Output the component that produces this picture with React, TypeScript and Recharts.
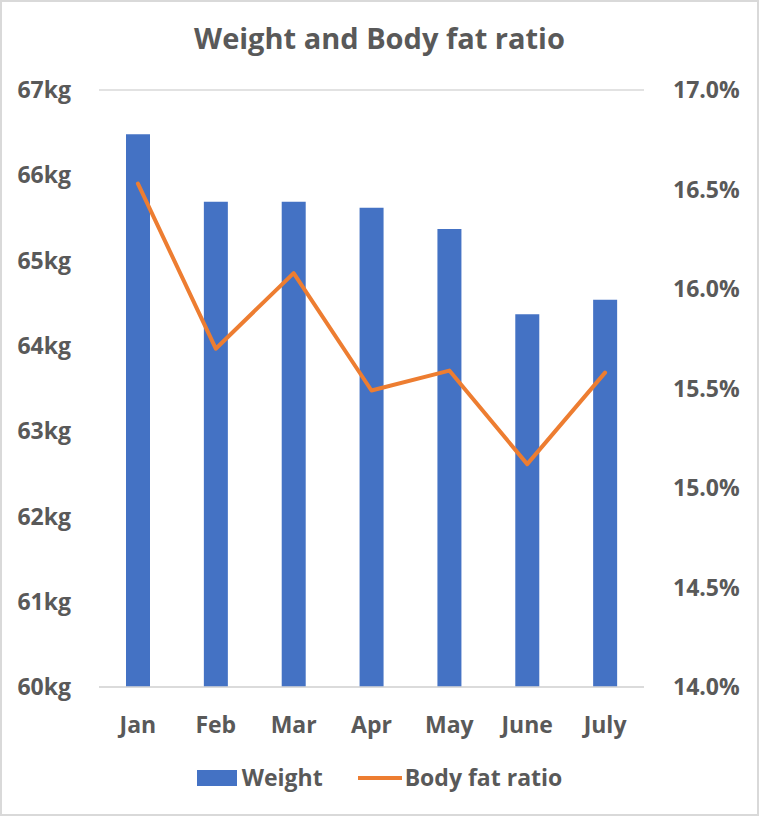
import {
  Bar,
  CartesianGrid,
  ComposedChart,
  Line,
  XAxis,
  YAxis,
} from "recharts"

const months = ["Jan", "Feb", "Mar", "Apr", "May", "June", "July"]
const weight = [66.48, 65.69, 65.69, 65.62, 65.37, 64.37, 64.54]
const bodyFat = [16.53, 15.7, 16.08, 15.49, 15.59, 15.12, 15.58]
const weightTicks = [60, 61, 62, 63, 64, 65, 66, 67]
const fatTicks = [14, 14.5, 15, 15.5, 16, 16.5, 17]

const TEXT = "#595959"
const BLUE = "#4472C4"
const ORANGE = "#ED7D31"
const FONT = "'Open Sans', sans-serif"

const data = months.map((month, i) => ({
  month,
  weight: weight[i],
  bodyFat: bodyFat[i],
}))

const tickStyle = { fill: TEXT, fontSize: 23, fontWeight: 700, fontFamily: FONT }

export default function App() {
  return (
    <div
      style={{
        position: "absolute",
        left: 0,
        top: 0,
        width: 759,
        height: 816,
        boxSizing: "border-box",
        border: "2px solid #D9D9D9",
        background: "#fff",
        fontFamily: FONT,
        color: TEXT,
      }}
    >
      <div
        style={{
          position: "absolute",
          left: 0,
          right: 0,
          top: 21,
          textAlign: "center",
          fontSize: 29,
          lineHeight: "29px",
          fontWeight: 700,
        }}
      >
        Weight and Body fat ratio
      </div>

      <ComposedChart
        width={755}
        height={812}
        data={data}
        margin={{ top: 88, right: 0, left: 0, bottom: 87 }}
      >
        <CartesianGrid vertical={false} stroke="#D9D9D9" strokeWidth={1.5} />
        <XAxis
          dataKey="month"
          height={40}
          tickSize={0}
          tickMargin={30}
          axisLine={{ stroke: "#D9D9D9", strokeWidth: 1.5 }}
          tickLine={false}
          tick={tickStyle}
        />
        <YAxis
          yAxisId="left"
          width={97}
          domain={[60, 67]}
          ticks={weightTicks}
          tickSize={0}
          tickMargin={28}
          axisLine={false}
          tickLine={false}
          tick={tickStyle}
          tickFormatter={(v: number) => `${v}kg`}
        />
        <YAxis
          yAxisId="right"
          orientation="right"
          width={113}
          domain={[14, 17]}
          ticks={fatTicks}
          tickSize={0}
          tickMargin={29}
          axisLine={false}
          tickLine={false}
          tick={tickStyle}
          tickFormatter={(v: number) => `${v.toFixed(1)}%`}
        />
        <Bar
          yAxisId="left"
          dataKey="weight"
          name="Weight"
          fill={BLUE}
          barSize={24}
          isAnimationActive={false}
        />
        <Line
          yAxisId="right"
          type="linear"
          dataKey="bodyFat"
          name="Body fat ratio"
          stroke={ORANGE}
          strokeWidth={4}
          strokeLinecap="round"
          strokeLinejoin="round"
          dot={false}
          activeDot={false}
          isAnimationActive={false}
        />
      </ComposedChart>

      <div
        style={{
          position: "absolute",
          left: 0,
          right: 0,
          top: 764,
          display: "flex",
          justifyContent: "center",
          alignItems: "center",
          fontSize: 23,
          lineHeight: "23px",
          fontWeight: 700,
        }}
      >
        <span style={{ width: 40, height: 16, background: BLUE, marginRight: 5 }} />
        <span>Weight</span>
        <span style={{ width: 44, height: 4, background: ORANGE, marginLeft: 35, marginRight: 3 }} />
        <span>Body fat ratio</span>
      </div>
    </div>
  )
}
